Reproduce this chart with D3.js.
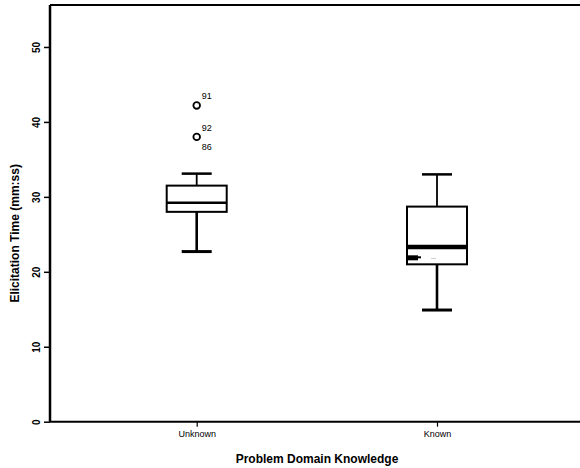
<!DOCTYPE html>
<html>
<head>
<meta charset="utf-8">
<script src="https://cdn.jsdelivr.net/npm/d3@7"></script>
<style>
  html, body { margin: 0; padding: 0; background: #fff; overflow: hidden; }
  svg { display: block; font-family: "Liberation Sans", Arial, sans-serif; }
</style>
</head>
<body>
<svg id="chart" width="580" height="468"></svg>
<script>
// Elicitation time by problem domain knowledge (box plot)
const categories = ["Unknown", "Known"];
const whiskerLow = [22.7, 14.9];
const quartile1 = [28.0, 21.0];
const medians = [29.2, 23.3];
const quartile3 = [31.5, 28.7];
const whiskerHigh = [33.1, 33.0];

const outlierCategory = ["Unknown", "Unknown", "Unknown"];
const outlierValues = [42.2, 38.0, 38.0];
const outlierIds = ["91", "92", "86"];

// overlapping case markers drawn inside the "Known" box
const markerCategory = ["Known"];
const markerValues = [21.8];

const yTicks = [0, 10, 20, 30, 40, 50];

const svg = d3.select("#chart");
const frame = { left: 50, right: 580, top: 5, bottom: 421.7 };

const y = d3.scaleLinear().domain([0, 55.6]).range([frame.bottom, frame.top]);
const x = d3.scalePoint().domain(categories).range([196.7, 437]);

const boxW = 60, capW = 30;

// top frame line
svg.append("line")
  .attr("x1", frame.left).attr("x2", frame.right)
  .attr("y1", frame.top).attr("y2", frame.top)
  .attr("stroke", "#000").attr("stroke-width", 2);

// y axis
const yAxis = svg.append("g")
  .attr("transform", `translate(${frame.left},0)`)
  .call(d3.axisLeft(y).tickValues(yTicks).tickSize(6).tickSizeOuter(0).tickFormat(d3.format("d")));
yAxis.select(".domain").attr("stroke-width", 2.5)
  .attr("d", `M0,${frame.top}V${frame.bottom}`);
yAxis.selectAll(".tick line").attr("stroke-width", 1.5);
yAxis.selectAll(".tick text")
  .attr("font-size", 10).attr("font-weight", "bold").attr("fill", "#000")
  .attr("text-anchor", "middle")
  .attr("x", 0).attr("dy", 0)
  .attr("transform", "translate(-13,0) rotate(-90)")
  .attr("dominant-baseline", "middle");

// x axis
const xAxis = svg.append("g")
  .attr("transform", `translate(0,${frame.bottom})`)
  .call(d3.axisBottom(x).tickSize(5).tickSizeOuter(0));
xAxis.select(".domain").attr("stroke-width", 2)
  .attr("d", `M${frame.left},0H${frame.right}`);
xAxis.selectAll(".tick line").attr("stroke-width", 1.2);
xAxis.selectAll(".tick text")
  .attr("font-size", 9).attr("fill", "#000").attr("y", 9);

// axis titles
svg.append("text")
  .attr("transform", `translate(19,${(frame.top + frame.bottom) / 2 + 20}) rotate(-90)`)
  .attr("text-anchor", "middle")
  .attr("font-size", 12).attr("font-weight", "bold")
  .text("Elicitation Time (mm:ss)");

svg.append("text")
  .attr("x", 317).attr("y", 463)
  .attr("text-anchor", "middle")
  .attr("font-size", 12).attr("font-weight", "bold")
  .text("Problem Domain Knowledge");

// boxes
const boxes = categories.map((c, i) => ({
  cat: c, lo: whiskerLow[i], q1: quartile1[i], med: medians[i], q3: quartile3[i], hi: whiskerHigh[i]
}));

const g = svg.append("g").selectAll("g").data(boxes).join("g")
  .attr("transform", d => `translate(${x(d.cat)},0)`);

// whiskers
g.append("line")
  .attr("x1", 0).attr("x2", 0)
  .attr("y1", d => y(d.q3)).attr("y2", d => y(d.hi))
  .attr("stroke", "#000").attr("stroke-width", 1.8);
g.append("line")
  .attr("x1", 0).attr("x2", 0)
  .attr("y1", d => y(d.q1)).attr("y2", d => y(d.lo))
  .attr("stroke", "#000").attr("stroke-width", 2.6);
// caps
g.append("line")
  .attr("x1", -capW / 2).attr("x2", capW / 2)
  .attr("y1", d => y(d.hi)).attr("y2", d => y(d.hi))
  .attr("stroke", "#000").attr("stroke-width", 2.5);
g.append("line")
  .attr("x1", -capW / 2).attr("x2", capW / 2)
  .attr("y1", d => y(d.lo)).attr("y2", d => y(d.lo))
  .attr("stroke", "#000").attr("stroke-width", 3);
// box
g.append("rect")
  .attr("x", -boxW / 2).attr("width", boxW)
  .attr("y", d => y(d.q3)).attr("height", d => y(d.q1) - y(d.q3))
  .attr("fill", "#fff").attr("stroke", "#000").attr("stroke-width", 2);
// median
g.append("line")
  .attr("x1", -boxW / 2).attr("x2", boxW / 2)
  .attr("y1", d => y(d.med)).attr("y2", d => y(d.med))
  .attr("stroke", "#000").attr("stroke-width", (d, i) => i === 1 ? 4.5 : 2.5);

// small overlapping case markers inside the box
const markers = markerValues.map((v, i) => ({ cat: markerCategory[i], value: v }));
const mg = svg.append("g").selectAll("g").data(markers).join("g")
  .attr("transform", d => `translate(${x(d.cat) - boxW / 2},${y(d.value)})`);
mg.append("rect")
  .attr("x", 1).attr("y", -3).attr("width", 10).attr("height", 5)
  .attr("fill", "#000");
mg.append("rect")
  .attr("x", 11).attr("y", -2).attr("width", 3).attr("height", 2)
  .attr("fill", "#000");
mg.append("text")
  .attr("x", 24).attr("y", 1)
  .attr("font-size", 6).attr("fill", "#000")
  .text("...");

// outliers
const outliers = outlierValues.map((v, i) => ({ cat: outlierCategory[i], value: v, id: outlierIds[i] }));
const seen = new Map();
outliers.forEach(o => {
  const key = o.cat + ":" + o.value;
  o.rank = seen.get(key) || 0;
  seen.set(key, o.rank + 1);
});

svg.append("g").selectAll("circle")
  .data(outliers.filter(o => o.rank === 0)).join("circle")
  .attr("cx", d => x(d.cat)).attr("cy", d => y(d.value)).attr("r", 3.3)
  .attr("fill", "#fff").attr("stroke", "#000").attr("stroke-width", 1.8);

svg.append("g").selectAll("text")
  .data(outliers).join("text")
  .attr("x", d => x(d.cat) + 5)
  .attr("y", d => y(d.value) + (d.rank === 0 ? -6 : 13))
  .attr("font-size", 9).attr("fill", "#000")
  .text(d => d.id);
</script>
</body>
</html>
